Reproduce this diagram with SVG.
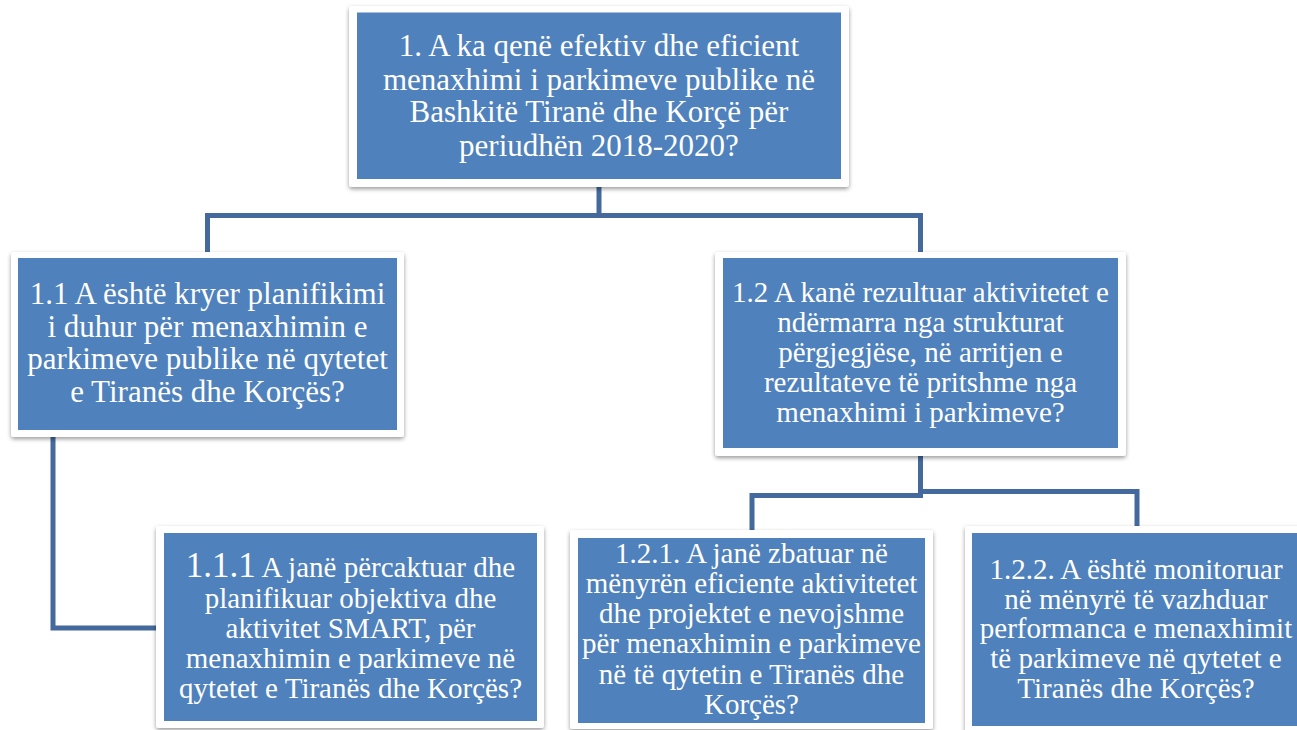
<svg xmlns="http://www.w3.org/2000/svg" width="1297" height="730" viewBox="0 0 1297 730">
  <defs>
    <filter id="sh" x="-5%" y="-5%" width="110%" height="115%">
      <feDropShadow dx="0" dy="2" stdDeviation="2" flood-color="#000" flood-opacity="0.4"/>
    </filter>
    <style>
      .frame { fill: #ffffff; filter: url(#sh); }
      .box { fill: #4f81bd; }
      .t { fill: #ffffff; font-family: "Liberation Serif", "Times New Roman", serif; text-anchor: middle; }
      .l { font-size: 31px; }
      .s { font-size: 29px; }
      .big { font-size: 35px; }
      .conn { fill: none; stroke: #44699c; stroke-width: 5; }
    </style>
  </defs>
  <rect width="1297" height="730" fill="#ffffff"/>

  <g id="connectors">
    <path class="conn" d="M599 187 V215.5"/>
    <path class="conn" d="M207.5 252 V215.5 H920.5 V252"/>
    <path class="conn" d="M53 437 V628 H156"/>
    <path class="conn" d="M920.5 456 V495.5 H752 V530"/>
    <path class="conn" d="M920.5 491.5 H1137 V526"/>
  </g>

  <g id="node-1">
    <rect class="frame" x="349" y="6" width="500" height="181" rx="3"/>
    <rect class="box" x="357" y="12.5" width="484" height="166.5"/>
    <text class="t l" x="599" y="55.5">1. A ka qenë efektiv dhe eficient</text>
    <text class="t l" x="599" y="89.5">menaxhimi i parkimeve publike në</text>
    <text class="t l" x="599" y="122">Bashkitë Tiranë dhe Korçë për</text>
    <text class="t l" x="599" y="156">periudhën 2018-2020?</text>
  </g>

  <g id="node-1-1">
    <rect class="frame" x="11" y="252" width="393" height="185" rx="3"/>
    <rect class="box" x="18" y="258" width="379" height="172"/>
    <text class="t l" x="207.5" y="304">1.1 A është kryer planifikimi</text>
    <text class="t l" x="207.5" y="337">i duhur për menaxhimin e</text>
    <text class="t l" x="207.5" y="369">parkimeve publike në qytetet</text>
    <text class="t l" x="207.5" y="402">e Tiranës dhe Korçës?</text>
  </g>

  <g id="node-1-2">
    <rect class="frame" x="715" y="252" width="411" height="204" rx="3"/>
    <rect class="box" x="723" y="258" width="395" height="190"/>
    <text class="t s" x="920.5" y="302">1.2 A kanë rezultuar aktivitetet e</text>
    <text class="t s" x="920.5" y="332">ndërmarra nga strukturat</text>
    <text class="t s" x="920.5" y="362">përgjegjëse, në arritjen e</text>
    <text class="t s" x="920.5" y="392">rezultateve të pritshme nga</text>
    <text class="t s" x="920.5" y="422">menaxhimi i parkimeve?</text>
  </g>

  <g id="node-1-1-1">
    <rect class="frame" x="156" y="526" width="388" height="202" rx="3"/>
    <rect class="box" x="164" y="533" width="373" height="188"/>
    <text class="t s" x="350.5" y="577"><tspan class="big">1.1.1</tspan> A janë përcaktuar dhe</text>
    <text class="t s" x="350.5" y="608">planifikuar objektiva dhe</text>
    <text class="t s" x="350.5" y="638">aktivitet SMART, për</text>
    <text class="t s" x="350.5" y="668">menaxhimin e parkimeve në</text>
    <text class="t s" x="350.5" y="698">qytetet e Tiranës dhe Korçës?</text>
  </g>

  <g id="node-1-2-1">
    <rect class="frame" x="570" y="530" width="363" height="199" rx="3"/>
    <rect class="box" x="578" y="538" width="347" height="185"/>
    <text class="t s" x="751.5" y="563">1.2.1. A janë zbatuar në</text>
    <text class="t s" x="751.5" y="593">mënyrën eficiente aktivitetet</text>
    <text class="t s" x="751.5" y="623">dhe projektet e nevojshme</text>
    <text class="t s" x="751.5" y="653">për menaxhimin e parkimeve</text>
    <text class="t s" x="751.5" y="684">në të qytetin e Tiranës dhe</text>
    <text class="t s" x="751.5" y="714">Korçës?</text>
  </g>

  <g id="node-1-2-2">
    <rect class="frame" x="965" y="526" width="340" height="209" rx="3"/>
    <rect class="box" x="972" y="533" width="330" height="193"/>
    <text class="t s" x="1136" y="579">1.2.2. A është monitoruar</text>
    <text class="t s" x="1136" y="609">në mënyrë të vazhduar</text>
    <text class="t s" x="1136" y="638">performanca e menaxhimit</text>
    <text class="t s" x="1136" y="668">të parkimeve në qytetet e</text>
    <text class="t s" x="1136" y="698">Tiranës dhe Korçës?</text>
  </g>
</svg>
